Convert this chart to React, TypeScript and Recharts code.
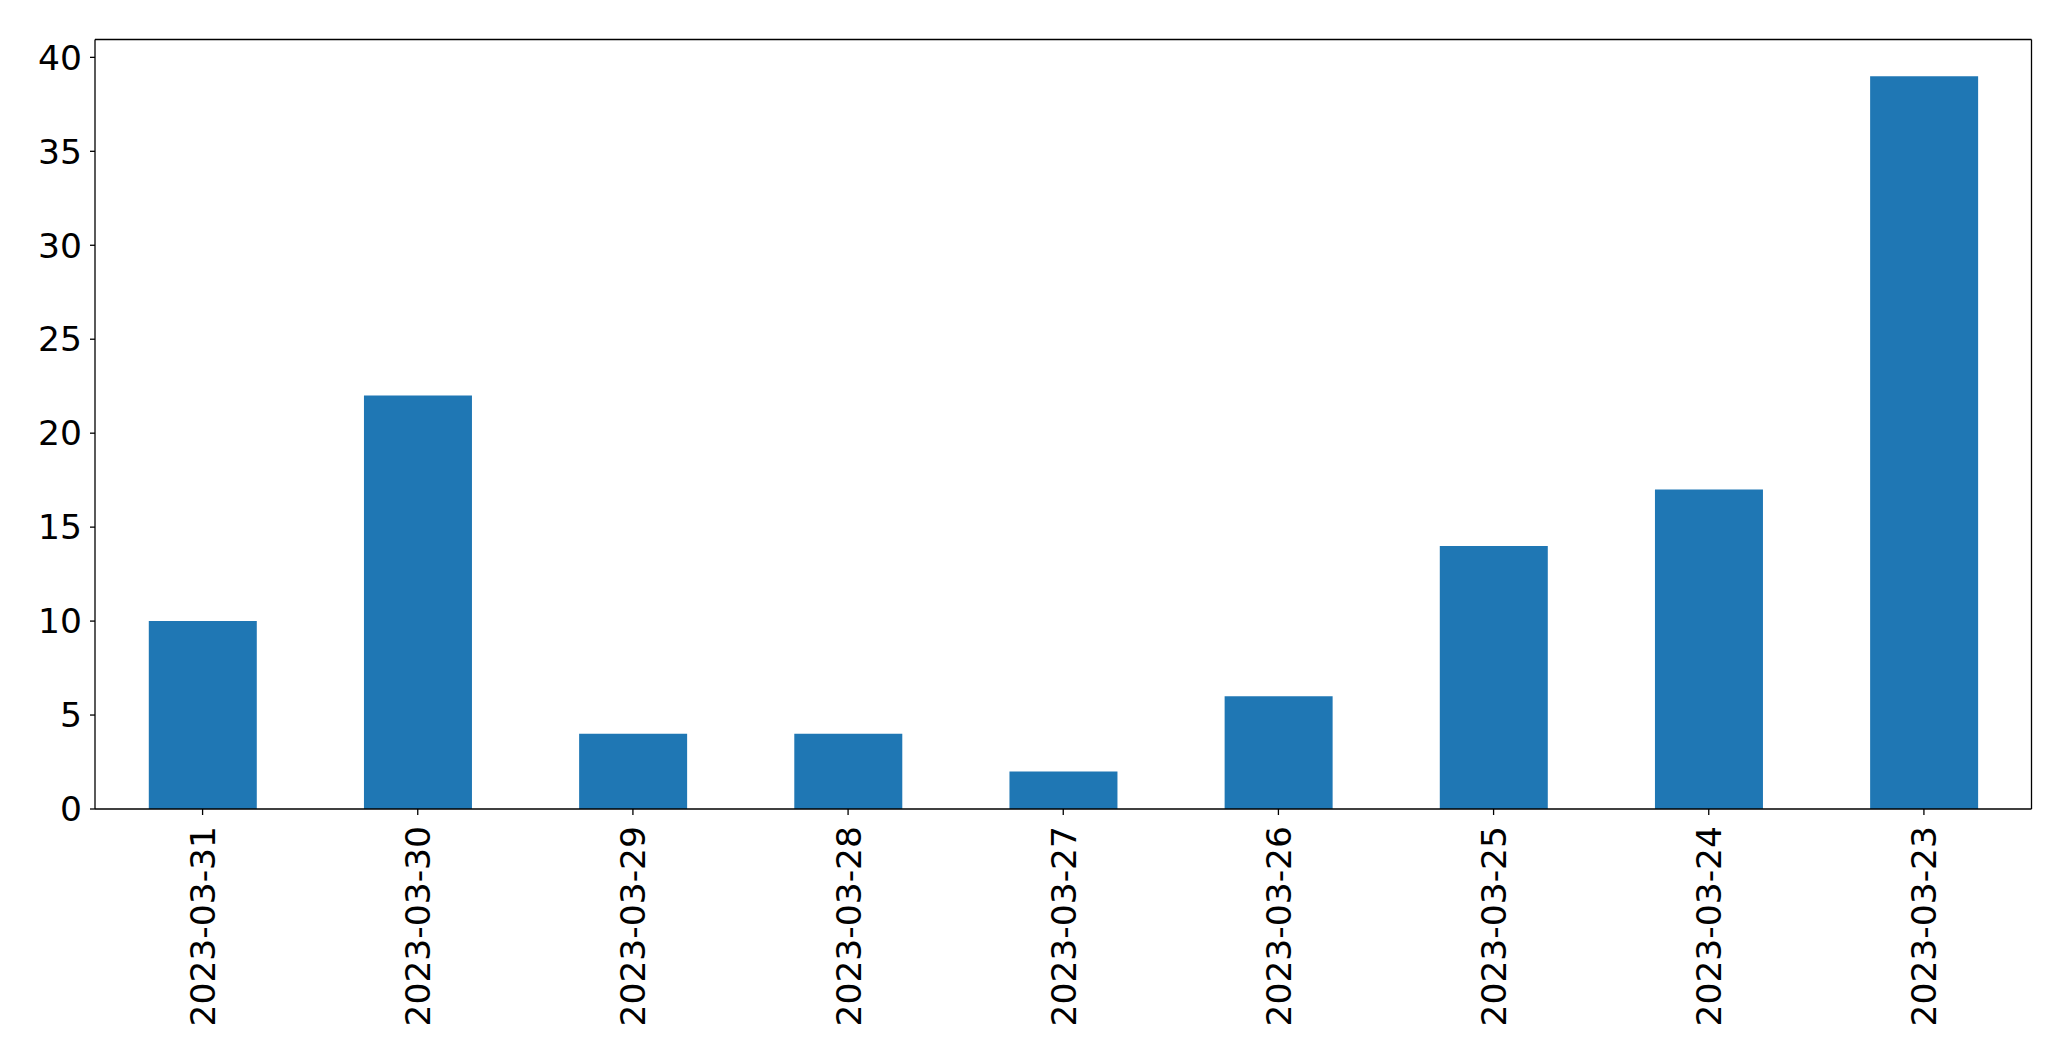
import React from "react";
import { BarChart, Bar, XAxis, YAxis, CartesianGrid } from "recharts";

const dates = [
  "2023-03-31",
  "2023-03-30",
  "2023-03-29",
  "2023-03-28",
  "2023-03-27",
  "2023-03-26",
  "2023-03-25",
  "2023-03-24",
  "2023-03-23",
];
const counts = [10, 22, 4, 4, 2, 6, 14, 17, 39];
const yTicks = [0, 5, 10, 15, 20, 25, 30, 35, 40];

const FONT = "DejaVu Sans";
const FS = 34.5;

const DateTick = (props: any) => {
  const { x, y, payload } = props;
  return (
    <text
      transform={`translate(${x},${y + 9}) rotate(-90)`}
      textAnchor="end"
      dy="0.36em"
      fontSize={FS}
      fontFamily={FONT}
      fill="#000"
    >
      {payload.value}
    </text>
  );
};

const App = () => {
  const data = dates.map((d, i) => ({ date: d, count: counts[i] }));

  return (
    <div style={{ position: "absolute", left: 0, top: 0, background: "#fff" }}>
      <BarChart
        width={2071}
        height={1061}
        data={data}
        margin={{ top: 39.5, right: 39.5, left: 0, bottom: 0 }}
        barCategoryGap="25%"
      >
        {/* top + right spines, like matplotlib's box */}
        <CartesianGrid
          stroke="#000"
          strokeWidth={1.3}
          horizontalCoordinatesGenerator={({ offset }: any) => [offset.top]}
          verticalCoordinatesGenerator={({ offset }: any) => [
            offset.left + offset.width,
          ]}
        />
        <XAxis
          dataKey="date"
          height={252}
          interval={0}
          tick={<DateTick />}
          tickSize={6}
          tickLine={{ stroke: "#000", strokeWidth: 1.3 }}
          axisLine={{ stroke: "#000", strokeWidth: 1.3 }}
        />
        <YAxis
          width={95}
          domain={[0, 40.95]}
          ticks={yTicks}
          interval={0}
          tickSize={5}
          tickMargin={8}
          tick={{ fill: "#000", fontSize: FS, fontFamily: FONT }}
          tickLine={{ stroke: "#000", strokeWidth: 1.3 }}
          axisLine={{ stroke: "#000", strokeWidth: 1.3 }}
        />
        <Bar dataKey="count" fill="#1f77b4" isAnimationActive={false} />
      </BarChart>
    </div>
  );
};

export default App;
